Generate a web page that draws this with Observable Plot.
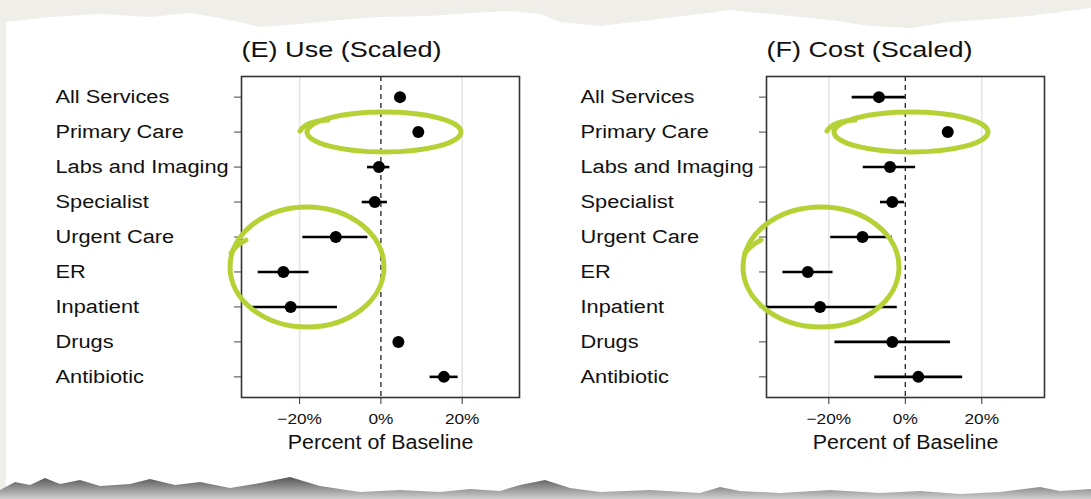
<!DOCTYPE html>
<html><head><meta charset="utf-8">
<script src="https://cdn.jsdelivr.net/npm/d3@7"></script>
<script src="https://cdn.jsdelivr.net/npm/@observablehq/plot@0.6"></script>
<style>
html,body{margin:0;padding:0;width:1091px;height:499px;overflow:hidden;background:#efeee9;font-family:"Liberation Sans",Arial,sans-serif;}
#paper{position:absolute;left:0;top:0;width:1091px;height:499px;background:#fff;
clip-path:polygon(6px 22px,50px 17px,100px 14px,150px 17px,190px 13px,230px 20px,260px 27px,300px 24px,340px 20px,380px 17px,430px 16px,470px 13px,510px 11px,540px 14px,560px 22px,600px 26px,650px 20px,700px 14px,730px 10px,780px 15px,830px 20px,870px 26px,910px 28px,950px 22px,990px 19px,1030px 16px,1060px 12px,1091px 8px,1091px 499px,6px 499px);}
.panel{position:absolute;top:20px;}
#deco,#bottom{position:absolute;left:0;top:0;pointer-events:none;}
</style></head><body>
<div id="paper"></div>
<svg id="bottom" width="1091" height="499">
<defs><linearGradient id="sh" x1="0" y1="0" x2="0" y2="1"><stop offset="0" stop-color="#555"/><stop offset="1" stop-color="#d0d0d0"/></linearGradient></defs>
<polygon fill="url(#sh)" points="0,499 0,490 15,482 30,485 45,478 60,484 80,480 100,486 130,484 150,479 175,485 200,482 230,488 260,483 290,477 320,486 360,492 400,490 440,492 470,489 500,491 520,485 545,480 570,488 600,492 650,490 700,493 720,487 740,491 780,493 830,490 880,493 920,491 960,494 1000,492 1040,487 1060,491 1091,489 1091,499"/>
</svg>
<div id="left" class="panel" style="left:40px"></div>
<div id="right" class="panel" style="left:565px"></div>
<svg id="deco" width="1091" height="499" fill="none" stroke="#b4d236" stroke-width="5" stroke-linecap="round">
<ellipse cx="384" cy="132" rx="77" ry="20"/>
<path d="M300,131 Q306,121 328,120"/>
<ellipse cx="307" cy="267" rx="77" ry="60"/>
<path d="M246,240 Q236,245 231,253"/>
<ellipse cx="911" cy="132" rx="77" ry="20"/>
<path d="M827,131 Q833,121 855,120"/>
<ellipse cx="821" cy="267" rx="78" ry="60"/>
<path d="M761,240 Q751,245 745,253"/>
</svg>
<script>
const categories = ["All Services","Primary Care","Labs and Imaging","Specialist","Urgent Care","ER","Inpatient","Drugs","Antibiotic"];
const useEst  = [4.7, 9.2, -0.5, -1.5, -11.1, -24.0, -22.2, 4.3, 15.5];
const useLo   = [null, null, -3.3, -4.6, -19.2, -30.2, -32.3, null, 12.1];
const useHi   = [null, null, 2.2, 1.6, -3.2, -17.7, -10.7, null, 19.0];
const costEst = [-6.9, 11.1, -4.0, -3.4, -11.2, -25.5, -22.3, -3.4, 3.4];
const costLo  = [-13.9, null, -11.0, -6.5, -19.5, -32.0, -36.3, -18.4, -8.0];
const costHi  = [0.0, null, 2.7, -0.2, -3.4, -18.9, -2.1, 11.8, 15.0];
const xTicks = [-20, 0, 20];
const gridTicks = [-20, 20];
const axisTitle = "Percent of Baseline";
const fmt = d => (d < 0 ? "\u2212" : "") + Math.abs(d) + "%";

function rows(est, lo, hi){ return categories.map((c,i)=>({cat:c, est:est[i], lo:lo[i], hi:hi[i]})); }

function panel(title, data, domain){
  return Plot.plot({
    width: 490, height: 440, marginLeft: 201, marginRight: 11, marginTop: 56, marginBottom: 63,
    style: {fontFamily: '"Liberation Sans", Arial, sans-serif', color:"#111", background:"transparent", overflow:"visible"},
    x: {domain, label: null},
    y: {type:"point", domain: categories, padding: 0.59, round: false, label: null},
    marks: [
      Plot.ruleX(gridTicks, {stroke:"#e4e4e4", strokeWidth:1.5}),
      Plot.ruleX([0], {stroke:"#222", strokeDasharray:"5,4", strokeWidth:1.3}),
      Plot.frame({stroke:"#333", strokeWidth:1.6}),
      Plot.axisY({tickSize:7, tickFormat: () => "", stroke:"#444", label:null}),
      Plot.axisX({ticks:xTicks, tickSize:7, tickPadding:9, fontSize:15, tickFormat: fmt, label:null, stroke:"#333"}),
      Plot.ruleY(data.filter(d=>d.lo!=null), {y:"cat", x1:"lo", x2:"hi", stroke:"#000", strokeWidth:2.6}),
      Plot.dot(data, {x:"est", y:"cat", r:6, fill:"#000", stroke:null}),
      Plot.text(categories, {y: d=>d, text: d=>d, frameAnchor:"left", dx:-186, textAnchor:"start", fontSize:18, fill:"#111"}),
      Plot.text([title], {frameAnchor:"top-left", dy:-20, textAnchor:"start", lineAnchor:"bottom", fontSize:22, fill:"#111"}),
      Plot.text([axisTitle], {frameAnchor:"bottom", dy:51.5, fontSize:20, fill:"#111"})
    ]
  });
}
function stretchAll(svg, title){
  svg.querySelectorAll("text").forEach(t=>{
    const s = t.textContent;
    let f = null;
    if (categories.includes(s)) f = 1.21;
    else if (s === title) f = 1.23;
    else if (s === axisTitle) f = 1.07;
    else if (/%$/.test(s)) f = 1.15;
    if (!f) return;
    const L = t.getComputedTextLength();
    if (L > 0){ t.setAttribute("textLength", (L*f).toFixed(2)); t.setAttribute("lengthAdjust","spacingAndGlyphs"); }
  });
}
const specs = [["left","(E) Use (Scaled)", rows(useEst,useLo,useHi), [-34.3, 34.1]],
               ["right","(F) Cost (Scaled)", rows(costEst,costLo,costHi), [-36.3, 36.4]]];
for (const [id, title, data, dom] of specs){
  const svg = panel(title, data, dom);
  document.getElementById(id).appendChild(svg);
  stretchAll(svg, title);
}
</script>
</body></html>
